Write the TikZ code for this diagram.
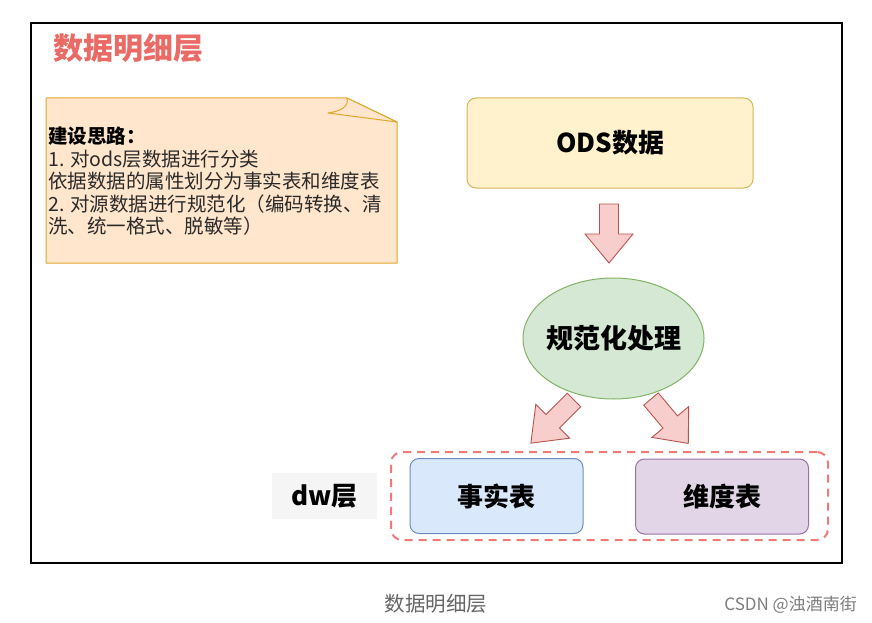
\documentclass[tikz,border=0pt]{standalone}
\usepackage{fontspec}
\setmainfont{Noto Sans CJK SC}
\usetikzlibrary{shapes.geometric}
\definecolor{titlered}{HTML}{EA6B66}
\definecolor{notefill}{HTML}{FFE6CC}
\definecolor{notedraw}{HTML}{E0A82E}
\definecolor{odsfill}{HTML}{FFF2CC}
\definecolor{odsdraw}{HTML}{D6B656}
\definecolor{arrfill}{HTML}{F8CECC}
\definecolor{arrdraw}{HTML}{B85450}
\definecolor{elfill}{HTML}{D5E8D4}
\definecolor{eldraw}{HTML}{82B366}
\definecolor{factfill}{HTML}{DAE8FC}
\definecolor{factdraw}{HTML}{6C8EBF}
\definecolor{dimfill}{HTML}{E1D5E7}
\definecolor{dimdraw}{HTML}{9673A6}
\definecolor{dashred}{HTML}{EE7B77}
\definecolor{dwfill}{HTML}{F5F5F5}
\definecolor{capgrey}{HTML}{666666}
\definecolor{notetext}{HTML}{2A2A2A}
\tikzset{
  lbl/.style={font=\fontsize{26}{31}\selectfont\bfseries, text=black},
  boxnode/.style={rectangle, rounded corners=9pt, line width=1pt, lbl},
  arrowshape/.style={fill=arrfill, draw=arrdraw, line width=0.9pt, line join=miter},
  blockarrow/.pic={
    \path[arrowshape] (-9.5,0) -- (9.5,0) -- (9.5,30) -- (24,30) -- (0,#1) -- (-24,30) -- (-9.5,30) -- cycle;
  }
}
\begin{document}
\begin{tikzpicture}[x=1pt,y=-1pt]
\useasboundingbox (0,0) rectangle (872,623);
\fill[white] (0,0) rectangle (872,623);
% frame
\draw[line width=1.3pt, black] (31,23) rectangle (842,563);
% title
\node[font=\fontsize{30}{35}\selectfont\bfseries, text=titlered, anchor=west, inner sep=0] (title) at (53,48) {数据明细层};
% note
\path[fill=notefill, draw=notedraw, line width=1pt, line join=round] (46,98) -- (347,98) -- (397,122) -- (397,263) -- (46,263) -- cycle;
\path[fill=notefill, draw=notedraw, line width=1pt, line join=round] (347,98) .. controls (349,106) and (342,111) .. (328,113) -- (397,122) -- cycle;
\node[anchor=north west, align=left, inner sep=0, text=notetext, font=\fontsize{19.5}{22.5}\selectfont] (notetxt) at (48,127) {\textbf{\color{black}建设思路：}\\1. 对ods层数据进行分类\\依据数据的属性划分为事实表和维度表\\2. 对源数据进行规范化（编码转换、清\\洗、统一格式、脱敏等）};
% ODS box
\node[boxnode, fill=odsfill, draw=odsdraw, minimum width=286pt, minimum height=90pt] (ods) at (610,143) {ODS数据};
% ellipse
\node[ellipse, fill=elfill, draw=eldraw, line width=1pt, inner sep=0, minimum width=181pt, minimum height=121pt, lbl, font=\fontsize{27}{32}\selectfont\bfseries] (proc) at (613.5,338.5) {\makebox[0pt]{规范化处理}};
% block arrows
\pic at (609,204) {blockarrow=59};
\pic[rotate=-45] at (574,400) {blockarrow=61};
\pic[rotate=40] at (651,399) {blockarrow=58};
% dashed group
\node[rectangle, rounded corners=11pt, draw=dashred, line width=2pt, dash pattern=on 8pt off 6pt, minimum width=437pt, minimum height=88pt] (grp) at (609.5,496) {};
% fact & dim
\node[boxnode, fill=factfill, draw=factdraw, minimum width=173pt, minimum height=75pt] (fact) at (496.5,496) {事实表};
\node[boxnode, fill=dimfill, draw=dimdraw, minimum width=173pt, minimum height=75pt] (dim) at (722,496.5) {维度表};
% dw label
\node[rectangle, fill=dwfill, minimum width=105pt, minimum height=46pt, lbl] (dw) at (324.5,496) {dw层};
% captions
\node[text=capgrey, font=\fontsize{20.5}{24}\selectfont] (cap) at (436,604) {数据明细层};
\node[text=capgrey!85, font=\fontsize{17}{20}\selectfont, anchor=east, inner sep=0] (csdn) at (857,605) {CSDN @浊酒南街};
\end{tikzpicture}
\end{document}
